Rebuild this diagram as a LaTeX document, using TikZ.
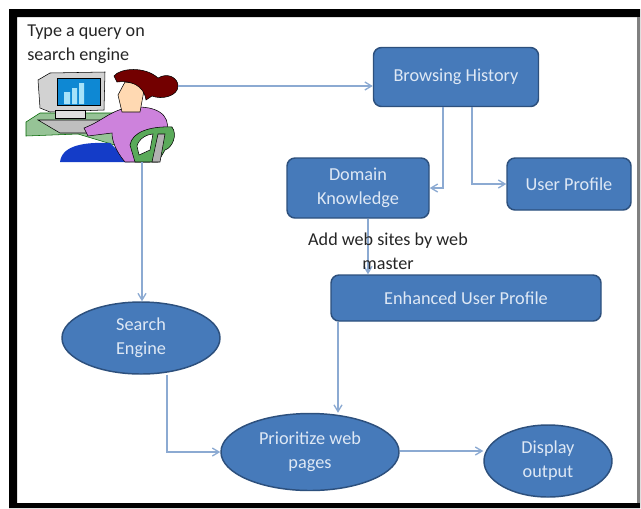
\documentclass[tikz,border=0pt]{standalone}
\usepackage{fontspec}
\setmainfont{Carlito}
\usetikzlibrary{arrows.meta,shapes.geometric}
\definecolor{boxfill}{RGB}{70,122,186}
\definecolor{boxline}{RGB}{45,80,125}
\definecolor{conn}{RGB}{140,170,210}
\definecolor{boxtext}{RGB}{222,232,245}
\definecolor{desk}{RGB}{150,195,150}
\definecolor{top}{RGB}{205,130,220}
\definecolor{chair}{RGB}{90,170,90}
\definecolor{skirt}{RGB}{20,60,200}
\tikzset{
 x=0.75pt,y=-0.75pt,
 rbox/.style={draw=boxline,line width=1.1pt,fill=boxfill,rounded corners=6pt,text=boxtext,align=center,font=\fontsize{13.7}{18}\selectfont,inner sep=0pt},
 ell/.style={ellipse,draw=boxline,line width=1.1pt,fill=boxfill,text=boxtext,align=center,font=\fontsize{13.7}{18}\selectfont,inner sep=0pt},
 lbl/.style={text=black!85,align=left,font=\fontsize{13.6}{18}\selectfont,inner sep=0pt},
 conn/.style={draw=conn,line width=1pt,-{Straight Barb[length=5pt,width=6pt]}},
}
\begin{document}
\begin{tikzpicture}
\useasboundingbox (0,0) rectangle (641,508);
\fill[white] (0,0) rectangle (641,508);
\fill[black,even odd rule] (9,9) rectangle (640,508) (17,17) rectangle (637,503);
\fill[black!50] (637,17) rectangle (640,503);
% person figure
\fill[desk,draw=black!60!green] (26,122) -- (40,113) -- (118,113) -- (118,146) -- (78,134) -- (26,136) -- cycle;
\fill[gray!35,draw=black] (38,80) -- (50,73) -- (105,72) -- (104,110) -- (50,112) -- (40,108) -- cycle;
\fill[cyan!70!blue,draw=black] (57,78) rectangle (100,105);
\fill[cyan!35] (64,92) rectangle (70,104) (72,88) rectangle (77,104) (79,83) rectangle (84,104);
\fill[gray!25,draw=black] (55,110) -- (85,110) -- (85,118) -- (55,118) -- cycle;
\fill[gray!50,draw=black] (38,120) -- (100,120) -- (108,133) -- (60,133) -- cycle;
\fill[skirt] (60,162) .. controls (62,145) and (85,142) .. (110,143) -- (130,162) -- cycle;
\fill[top,draw=black] (84,128) .. controls (105,120) and (112,108) .. (135,107) .. controls (165,106) and (172,122) .. (165,135) -- (150,162) -- (125,162) .. controls (115,150) and (112,140) .. (112,133) -- (88,136) -- cycle;
\fill[orange!30,draw=black] (118,95) -- (125,82) -- (145,85) -- (140,112) -- (122,112) -- cycle;
\fill[red!45!black,draw=black] (114,76) .. controls (120,68) and (145,66) .. (158,78) .. controls (168,72) and (178,78) .. (178,86) .. controls (178,96) and (162,100) .. (152,96) -- (146,100) .. controls (144,85) and (130,80) .. (117,82) -- cycle;
\fill[chair,draw=black] (130,145) .. controls (132,132) and (150,126) .. (172,127) .. controls (178,135) and (172,148) .. (165,150) -- (158,162) -- (135,162) -- cycle;
\fill[white,draw=black] (137,146) .. controls (139,138) and (148,134) .. (153,134) -- (150,150) -- (139,155) -- cycle;
\fill[gray!60,draw=black] (152,162) -- (158,134) -- (165,134) -- (160,162) -- cycle;
\node[lbl,anchor=north west] (query) at (27,25) {Type a query on\\search engine};
\coordinate (personR) at (178,86);
\coordinate (personB) at (142,162);
% nodes
\node[rbox,minimum width=165*0.75,minimum height=59*0.75] (hist) at (456,77) {Browsing History};
\node[rbox,minimum width=142*0.75,minimum height=60*0.75] (dom) at (358,188) {Domain\\Knowledge};
\node[rbox,minimum width=124*0.75,minimum height=52*0.75] (up) at (569,184) {User Profile};
\node[rbox,minimum width=270*0.75,minimum height=46*0.75] (enh) at (466,298) {Enhanced User Profile};
\node[ell,minimum width=158*0.75,minimum height=72*0.75] (se) at (141,338) {Search\\Engine};
\node[ell,minimum width=178*0.75,minimum height=77*0.75] (pri) at (310,452) {Prioritize web\\pages};
\node[ell,minimum width=128*0.75,minimum height=72*0.75] (disp) at (548,461) {Display\\output};
% connectors
\draw[conn] (personR) -- (hist.west |- personR);
\draw[conn] (personB) -- (se.north -| personB);
\draw[conn] (hist.south -| 443,0) |- (dom.east |- 0,188);
\draw[conn] (hist.south -| 472,0) |- (up.west |- 0,184);
\draw[conn] (dom.south -| 368,0) -- (enh.north -| 368,0);
\draw[conn] (enh.south -| 338,0) -- (pri.north -| 338,0);
\draw[conn] (se.south -| 167,0) |- (pri.west |- 0,452);
\draw[conn] (pri.east |- 0,451) -- (disp.west |- 0,451);
\node[lbl,align=center] (add) at (388,251) {Add web sites by web\\master};
\end{tikzpicture}
\end{document}
